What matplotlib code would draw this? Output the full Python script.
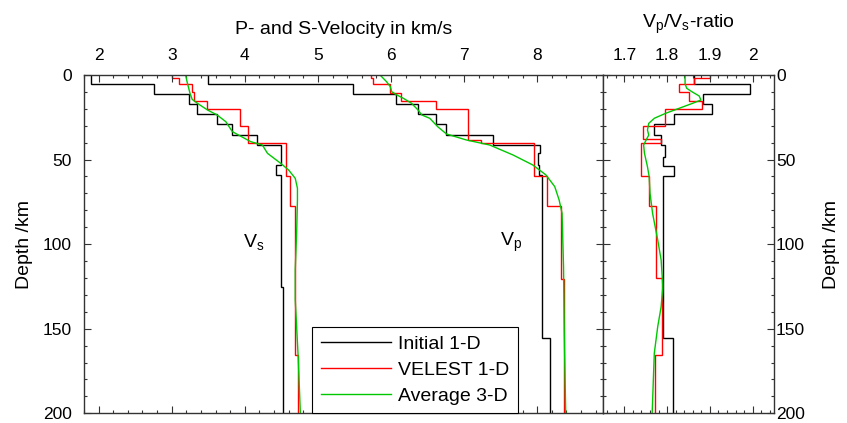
import matplotlib
matplotlib.use("Agg")
import matplotlib.pyplot as plt
from matplotlib.ticker import MultipleLocator

plt.rcParams['font.family'] = ['Liberation Sans', 'DejaVu Sans']

# Initial 1-D model (layer edges in km, values per layer)
init_vs_edges = [0, 5.3, 11.2, 17.1, 23.2, 29.1, 35.5, 41.4, 53.2, 59.1, 125.5, 200]
init_vs = [1.90, 2.76, 3.24, 3.35, 3.62, 3.82, 4.16, 4.49, 4.42, 4.50, 4.52]
init_vp_edges = [0, 5.3, 11.2, 17.1, 23.2, 29.1, 35.5, 41.4, 46.3, 53.2, 59.1, 125.5, 155.7, 200]
init_vp = [3.50, 5.48, 6.07, 6.37, 6.61, 6.75, 7.40, 8.04, 8.01, 8.03, 8.06, 8.07, 8.18]
init_ratio_edges = [0, 5.3, 11.2, 17.1, 23.2, 29.1, 35.5, 41.4, 48.3, 53.8, 59.7, 155.7, 200]
init_ratio = [1.862, 1.994, 1.883, 1.906, 1.817, 1.770, 1.786, 1.796, 1.790, 1.817, 1.790, 1.813]

# VELEST 1-D model
velest_vs_edges = [0, 2, 5.3, 10.2, 15.2, 20.3, 30.1, 40.4, 59.7, 77.5, 165.5, 200]
velest_vs = [3.01, 3.10, 3.28, 3.31, 3.48, 3.94, 4.05, 4.57, 4.62, 4.68, 4.73]
velest_vp_edges = [0, 2, 5.3, 10.5, 15.2, 20.3, 38.4, 40.4, 59.7, 77.5, 120.6, 200]
velest_vp = [5.73, 5.76, 5.99, 6.14, 6.61, 7.05, 7.23, 7.95, 8.14, 8.32, 8.36]
velest_ratio_edges = [0, 2, 5.3, 10.2, 15.2, 20.3, 30.1, 38.0, 40.4, 59.7, 77.5, 120.2, 165.5, 200]
velest_ratio = [1.900, 1.864, 1.827, 1.852, 1.881, 1.796, 1.743, 1.786, 1.739, 1.758, 1.774, 1.788, 1.772]

# Average 3-D model (smooth curves)
avg_vs_depth = [0, 4, 10.8, 14.4, 16.7, 20.7, 23.6, 27.6, 33.5, 36.1, 39.4, 41.4, 46.3, 52.2,
                56.2, 61.1, 67, 73.9, 91.6, 115, 133, 166.7, 200]
avg_vs = [3.19, 3.21, 3.25, 3.28, 3.35, 3.49, 3.62, 3.74, 3.83, 3.94, 4.08, 4.24, 4.31, 4.49,
          4.60, 4.69, 4.72, 4.72, 4.71, 4.69, 4.69, 4.73, 4.76]
avg_vp_depth = [0, 4, 6.9, 9.9, 11.8, 13.8, 16.7, 20.7, 23.6, 25.6, 30.6, 34.9, 38.4, 41.4,
                47.3, 53.2, 59.1, 66, 73.9, 81.8, 97.5, 113.3, 152.5, 200]
avg_vp = [5.85, 5.94, 5.99, 6.01, 6.08, 6.17, 6.28, 6.37, 6.42, 6.53, 6.64, 6.76, 7.03, 7.35,
          7.67, 7.94, 8.12, 8.24, 8.30, 8.34, 8.35, 8.36, 8.37, 8.39]
avg_ratio_depth = [0, 5.3, 7.9, 10.2, 12.4, 14.8, 16.7, 19.7, 22.6, 25.6, 28.6, 32.5, 35.5, 38.4,
                   41.4, 46.3, 54.2, 60.1, 69.9, 81.8, 97.5, 109.4, 125.2, 137, 148.8, 164.5, 200]
avg_ratio = [1.842, 1.842, 1.846, 1.860, 1.875, 1.879, 1.860, 1.828, 1.797, 1.770, 1.757, 1.754,
             1.757, 1.751, 1.745, 1.747, 1.754, 1.758, 1.760, 1.766, 1.778, 1.786, 1.790, 1.786,
             1.778, 1.770, 1.765]

c_init, c_velest, c_avg = 'black', '#ff0000', '#00c800'
lw = 1.0
fs = 14

fig = plt.figure(figsize=(8.47, 4.23), dpi=100)
ax1 = fig.add_axes([84 / 847, 9.7 / 423, 519 / 847, 338.3 / 423])
ax2 = fig.add_axes([603 / 847, 9.7 / 423, 171 / 847, 338.3 / 423])

# Velocity panel
ax1.stairs(init_vs, init_vs_edges, orientation='horizontal', baseline=None, color=c_init, lw=lw, label='Initial 1-D')
ax1.stairs(init_vp, init_vp_edges, orientation='horizontal', baseline=None, color=c_init, lw=lw)
ax1.stairs(velest_vs, velest_vs_edges, orientation='horizontal', baseline=None, color=c_velest, lw=lw, label='VELEST 1-D')
ax1.stairs(velest_vp, velest_vp_edges, orientation='horizontal', baseline=None, color=c_velest, lw=lw)
ax1.plot(avg_vs, avg_vs_depth, color=c_avg, lw=lw, label='Average 3-D')
ax1.plot(avg_vp, avg_vp_depth, color=c_avg, lw=lw)

ax1.text(3.97, 99, r'V$_\mathregular{s}$', fontsize=fs, ha='left', va='center')
ax1.text(7.49, 99, r'V$_\mathregular{p}$', fontsize=fs, ha='left', va='center')

ax1.set_xlim(1.8, 8.9)
ax1.set_ylim(200, 0)
ax1.xaxis.set_major_locator(MultipleLocator(1))
ax1.xaxis.set_minor_locator(MultipleLocator(0.2))
ax1.set_xlabel('P- and S-Velocity in km/s', fontsize=fs, labelpad=10)
ax1.set_ylabel('Depth /km', fontsize=fs, labelpad=7)

leg = ax1.legend(loc='lower left', bbox_to_anchor=(0.439, 0.0), borderaxespad=0,
                 fontsize=fs, handlelength=3.6, handletextpad=0.36, labelspacing=0.42,
                 borderpad=0.45, fancybox=False, framealpha=1, edgecolor='black')
leg.get_frame().set_linewidth(0.8)

# Vp/Vs panel
ax2.stairs(init_ratio, init_ratio_edges, orientation='horizontal', baseline=None, color=c_init, lw=lw)
ax2.stairs(velest_ratio, velest_ratio_edges, orientation='horizontal', baseline=None, color=c_velest, lw=lw)
ax2.plot(avg_ratio, avg_ratio_depth, color=c_avg, lw=lw)

ax2.set_xlim(1.65, 2.05)
ax2.set_ylim(200, 0)
ax2.xaxis.set_major_locator(MultipleLocator(0.1))
ax2.xaxis.set_minor_locator(MultipleLocator(0.02))
ax2.set_xticks([1.7, 1.8, 1.9, 2.0])
ax2.set_xticklabels(['1.7', '1.8', '1.9', '2'])
ax2.set_xlabel(r'V$_\mathregular{p}$/V$_\mathregular{s}$-ratio', fontsize=fs, labelpad=14)
ax2.yaxis.set_label_position('right')
ax2.set_ylabel('Depth /km', fontsize=fs, labelpad=13)

for ax in (ax1, ax2):
    ax.xaxis.set_label_position('top')
    ax.yaxis.set_major_locator(MultipleLocator(50))
    ax.yaxis.set_minor_locator(MultipleLocator(10))
    ax.tick_params(which='both', direction='in', top=True, bottom=True, left=True, right=True,
                   labeltop=True, labelbottom=False, labelsize=12.5, width=0.8, color='#333333')
    ax.tick_params(which='major', length=5)
    ax.tick_params(which='minor', length=2.5)
    ax.tick_params(axis='x', pad=9)
    for s in ax.spines.values():
        s.set_linewidth(1.0)
        s.set_color('#333333')

ax1.tick_params(axis='y', labelleft=True, labelright=False, pad=9)
ax2.tick_params(axis='y', labelleft=False, labelright=True, pad=1.5)

fig.savefig('out.png', dpi=100)
